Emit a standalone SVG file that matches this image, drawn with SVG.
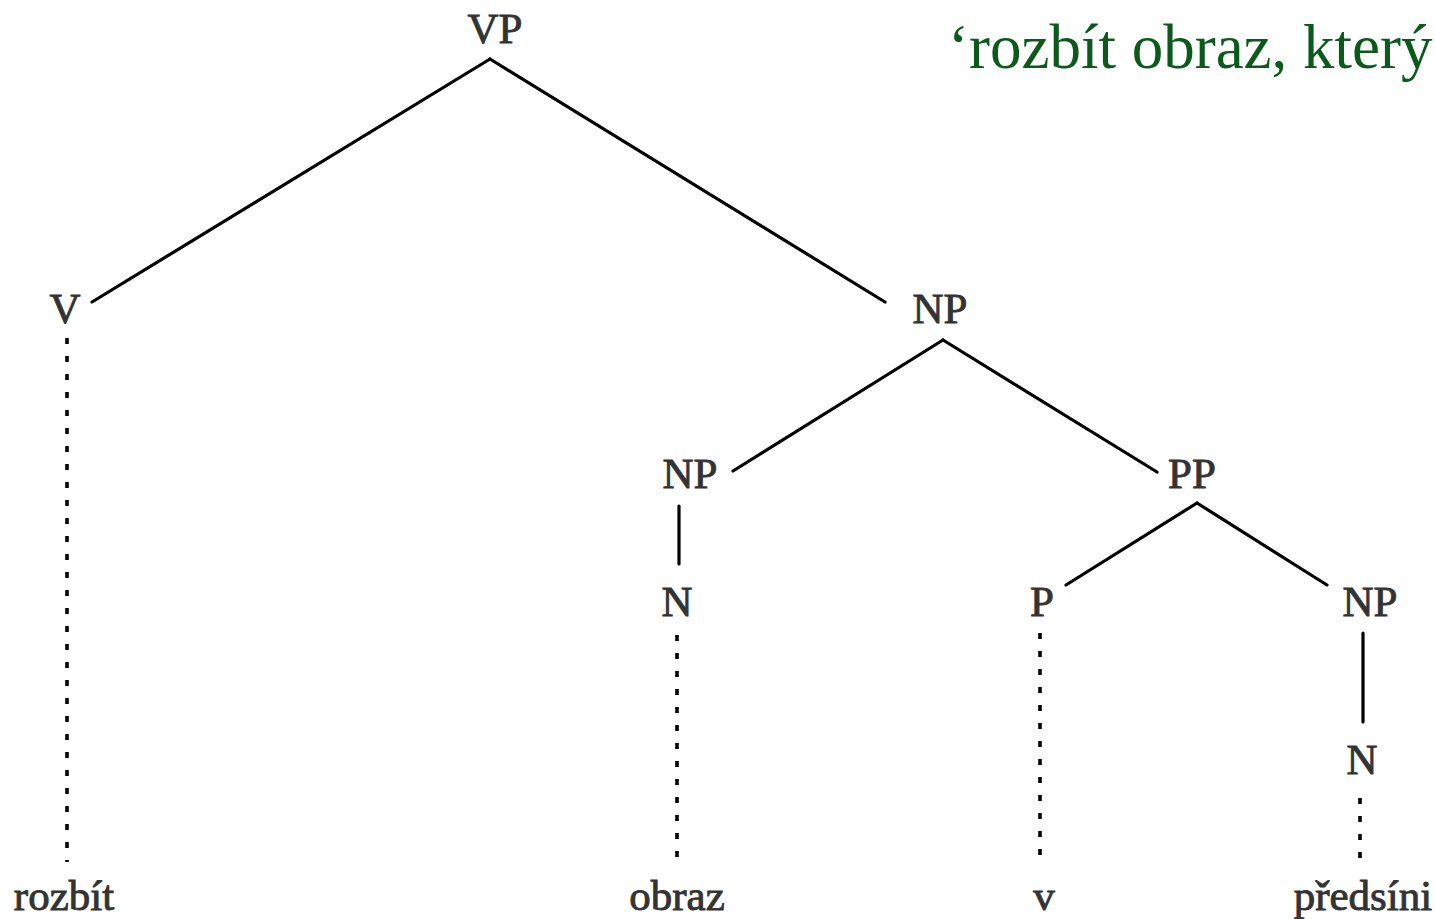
<svg xmlns="http://www.w3.org/2000/svg" width="1435" height="919" viewBox="0 0 1435 919">
<style>
.lbl{font-family:"Liberation Serif","Times New Roman",serif;font-size:43px;fill:#333;stroke:#333;stroke-width:0.9;text-anchor:middle}
.gloss{font-family:"Liberation Serif","Times New Roman",serif;font-size:63px;fill:#0b5a1c}
.edge{stroke:#000;stroke-width:3.2;stroke-linecap:round;fill:none}
.dot{stroke:#000;stroke-width:3.6;stroke-dasharray:6 12;fill:none}
</style>
<rect width="1435" height="919" fill="#fff"/>
<g id="connectors">
<line class="edge" x1="490" y1="59" x2="92" y2="302"/>
<line class="edge" x1="490" y1="59" x2="885" y2="302"/>
<line class="edge" x1="943" y1="340" x2="733" y2="471"/>
<line class="edge" x1="943" y1="340" x2="1157" y2="472"/>
<line class="edge" x1="679" y1="506" x2="679" y2="564"/>
<line class="edge" x1="1197" y1="503" x2="1066" y2="585"/>
<line class="edge" x1="1197" y1="503" x2="1327" y2="585"/>
<line class="edge" x1="1363" y1="633" x2="1363" y2="722"/>
<line class="dot" x1="67" y1="338" x2="67" y2="862"/>
<line class="dot" x1="677" y1="635" x2="677" y2="861"/>
<line class="dot" x1="1040" y1="633" x2="1040" y2="861"/>
<line class="dot" x1="1360" y1="798" x2="1360" y2="859"/>
</g>
<g id="n-VP"><text class="lbl" x="495" y="43">VP</text></g>
<g id="n-V"><text class="lbl" x="65" y="323">V</text></g>
<g id="n-NP1"><text class="lbl" x="940" y="323">NP</text></g>
<g id="n-NP2"><text class="lbl" x="690" y="488">NP</text></g>
<g id="n-PP"><text class="lbl" x="1192" y="488">PP</text></g>
<g id="n-N1"><text class="lbl" x="677" y="616">N</text></g>
<g id="n-P"><text class="lbl" x="1042" y="616">P</text></g>
<g id="n-NP3"><text class="lbl" x="1370" y="616">NP</text></g>
<g id="n-N2"><text class="lbl" x="1362" y="774">N</text></g>
<g id="w-rozbit"><text class="lbl" x="64" y="910">rozbít</text></g>
<g id="w-obraz"><text class="lbl" x="677" y="910">obraz</text></g>
<g id="w-v"><text class="lbl" x="1044" y="910">v</text></g>
<g id="w-predsini"><text class="lbl" x="1363" y="910">předsíni</text></g>
<g id="gloss"><text class="gloss" x="948" y="68">‘rozbít obraz, který</text></g>
</svg>
